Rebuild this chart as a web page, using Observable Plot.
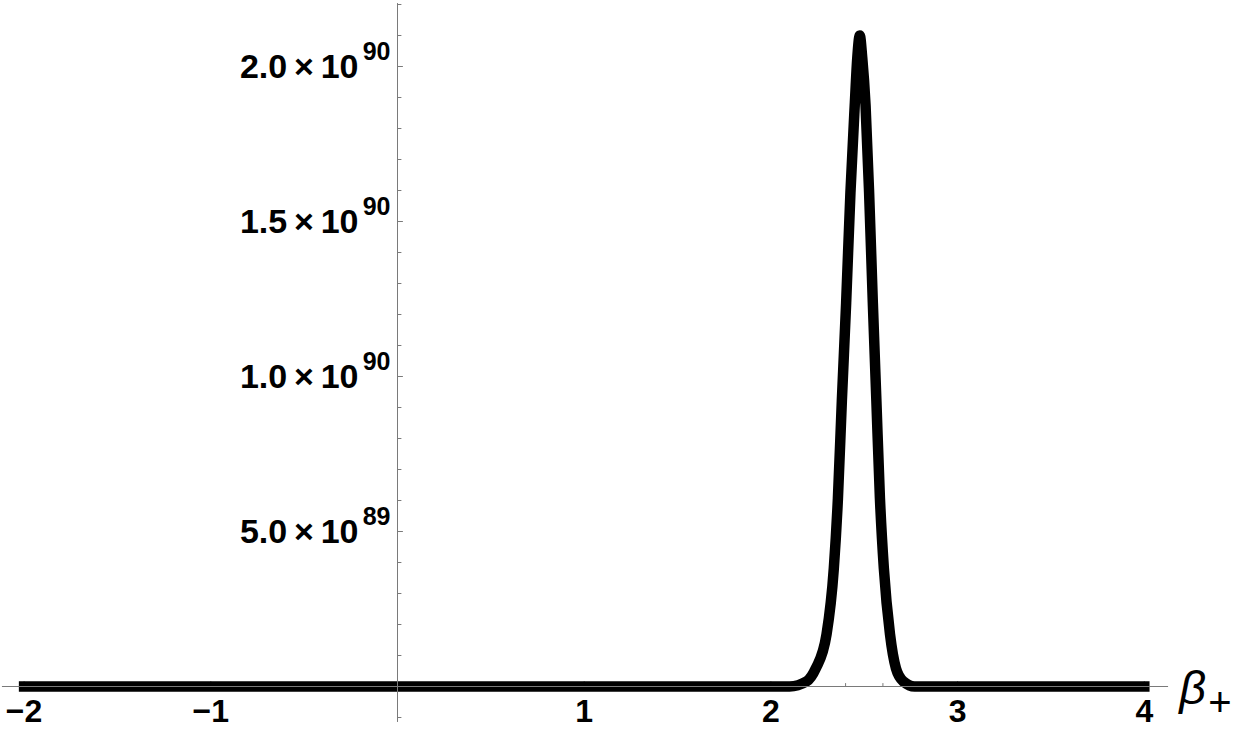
<!DOCTYPE html>
<html>
<head>
<meta charset="utf-8">
<script src="https://cdn.jsdelivr.net/npm/d3@7"></script>
<script src="https://cdn.jsdelivr.net/npm/@observablehq/plot@0.6"></script>
<style>
  html, body { margin: 0; padding: 0; background: #fff; }
</style>
</head>
<body>
<div id="chart"></div>
<script>
// Curve: beta_+ values and function values
const betaPlus = [-2, -1, 0, 1, 2, 2.10, 2.19, 2.24, 2.298, 2.337, 2.359, 2.380, 2.403, 2.426, 2.449, 2.463, 2.476, 2.489, 2.507, 2.526, 2.546, 2.565, 2.584, 2.605, 2.638, 2.67, 2.71, 2.77, 3, 4];
const values   = [0, 0, 0, 0, 0, 0, 0.016e90, 0.058e90, 0.168e90, 0.381e90, 0.607e90, 0.921e90, 1.237e90, 1.593e90, 1.874e90, 2.03e90, 2.10e90, 2.03e90, 1.874e90, 1.593e90, 1.237e90, 0.921e90, 0.607e90, 0.381e90, 0.168e90, 0.058e90, 0.016e90, 0, 0, 0];

// Tick labels
const xTickValues = [-2, -1, 1, 2, 3, 4];
const xTickLabels = ["\u22122", "\u22121", "1", "2", "3", "4"];
const yTickValues = [5e89, 1e90, 1.5e90, 2e90];
const yTickMantissa = ["5.0\u2009\u00d7\u200910", "1.0\u2009\u00d7\u200910", "1.5\u2009\u00d7\u200910", "2.0\u2009\u00d7\u200910"];
const yTickExponent = ["89", "90", "90", "90"];
const xMajorTicks = [-2, -1, 0, 1, 2, 3, 4];
const xMinorTicks = d3.range(-2, 4.0001, 0.2).map(v => +v.toFixed(1)).filter(v => !Number.isInteger(v));
const yMajorTicks = [0, 5e89, 1e90, 1.5e90, 2e90];
const yMinorTicks = [-1e89, 1e89, 2e89, 3e89, 4e89, 6e89, 7e89, 8e89, 9e89, 11e89, 12e89, 13e89, 14e89, 16e89, 17e89, 18e89, 19e89, 21e89, 22e89];

const curve = betaPlus.map((x, i) => ({x, y: values[i]}));
const font = "'Liberation Sans', Arial, sans-serif";
const tickShape = {draw(context, l) { context.moveTo(0, 0); context.lineTo(0, -l); }};
const axisColor = "#7a7a7a";

const chart = Plot.plot({
  width: 1235,
  height: 734,
  margin: 0,
  style: {background: "#fff", fontFamily: font, overflow: "visible"},
  x: {domain: [-2, 4], range: [23.6, 1143.8], axis: null},
  y: {domain: [0, 2e90], range: [686, 66], axis: null},
  marks: [
    // ticks (under the curve)
    Plot.vector(xMajorTicks, {x: d => d, y: () => 0, length: 5, rotate: 0, anchor: "start", shape: tickShape, stroke: axisColor, strokeWidth: 1}),
    Plot.vector(xMinorTicks, {x: d => d, y: () => 0, length: 3, rotate: 0, anchor: "start", shape: tickShape, stroke: axisColor, strokeWidth: 1}),
    Plot.vector(yMajorTicks, {x: () => 0, y: d => d, length: 5, rotate: 90, anchor: "start", shape: tickShape, stroke: axisColor, strokeWidth: 1}),
    Plot.vector(yMinorTicks, {x: () => 0, y: d => d, length: 3.5, rotate: 90, anchor: "start", shape: tickShape, stroke: axisColor, strokeWidth: 1}),
    Plot.line(curve, {x: "x", y: "y", stroke: "#000", strokeWidth: 10.5, curve: "monotone-x", strokeLinecap: "square", strokeLinejoin: "round"}),
    // axis lines on top
    Plot.ruleY([0], {x1: -2.116, x2: 4.13, stroke: axisColor, strokeWidth: 1}),
    Plot.ruleX([0], {y1: -1.16e89, y2: 2.203e90, stroke: axisColor, strokeWidth: 1}),
    // x tick labels
    Plot.text(xTickValues, {x: d => d, y: () => 0, text: (d, i) => xTickLabels[i], dy: 25, fontSize: 32, fontWeight: "bold", fill: "#000", textAnchor: "middle"}),
    // y tick labels: mantissa and exponent
    Plot.text(yTickValues, {x: () => 0, y: d => d, text: (d, i) => yTickMantissa[i], dx: -39, dy: 1, fontSize: 34, fontWeight: "bold", fill: "#000", textAnchor: "end"}),
    Plot.text(yTickValues, {x: () => 0, y: d => d, text: (d, i) => yTickExponent[i], dx: -7, dy: -15, fontSize: 25, fontWeight: "bold", fill: "#000", textAnchor: "end"}),
    // axis label beta_+
    Plot.text(["\u03b2"], {x: () => 4, y: () => 0, text: d => d, dx: 35, dy: 2, fontSize: 47, fontStyle: "italic", fill: "#000", textAnchor: "start"}),
    Plot.text(["+"], {x: () => 4, y: () => 0, text: d => d, dx: 64, dy: 17, fontSize: 40, fill: "#000", textAnchor: "start"})
  ]
});
document.getElementById("chart").appendChild(chart);
</script>
</body>
</html>
